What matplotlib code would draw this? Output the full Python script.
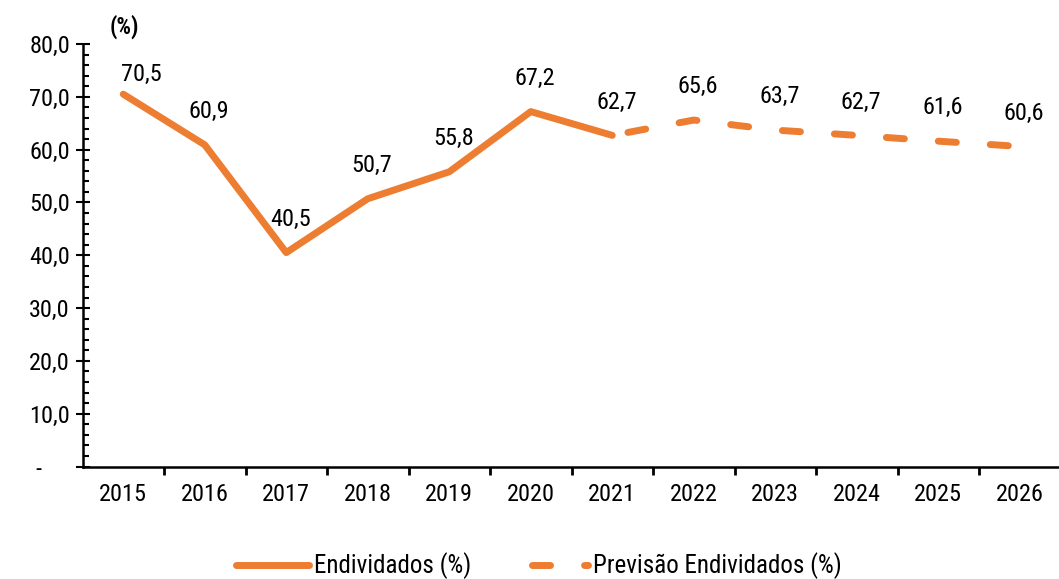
import matplotlib
matplotlib.use("Agg")
import matplotlib.pyplot as plt
from matplotlib.ticker import MultipleLocator, FuncFormatter

plt.rcParams['font.family'] = ['Roboto Condensed', 'Liberation Sans', 'DejaVu Sans']
plt.rcParams['lines.scale_dashes'] = False

years = ["2015", "2016", "2017", "2018", "2019", "2020", "2021",
         "2022", "2023", "2024", "2025", "2026"]
endividados = [70.5, 60.9, 40.5, 50.7, 55.8, 67.2, 62.7]
previsao = [62.7, 65.6, 63.7, 62.7, 61.6, 60.6]
y_ticks = [0, 10, 20, 30, 40, 50, 60, 70, 80]

ORANGE = "#ED7D31"
FS = 17.5

fig = plt.figure(figsize=(10.59, 5.79), dpi=100)
ax = fig.add_axes([82.5 / 1059, 1 - 466.5 / 579, (1060.5 - 82.5) / 1059, (466.5 - 44) / 579])

x_all = list(range(len(years)))
x_hist = x_all[:len(endividados)]
x_prev = x_all[len(endividados) - 1:]

ax.plot(x_hist, endividados, color=ORANGE, lw=5, solid_capstyle='round',
        solid_joinstyle='round', label="Endividados (%)", clip_on=False)
lp, = ax.plot(x_prev, previsao, color=ORANGE, lw=5, dash_capstyle='round',
              label="Previsão Endividados (%)", clip_on=False)
lp.set_linestyle((26, (13, 24.5)))

# data labels
vals = endividados + previsao[1:]
for i, v in enumerate(vals):
    dx, dy = (3, 24) if i > 0 else (13, 14)
    ax.annotate(f"{v:.1f}".replace(".", ","), (i, v), xytext=(dx, dy),
                textcoords="offset points", ha="center", va="center",
                fontsize=FS, color="black")

ax.set_xlim(-0.5, len(years) - 0.5)
ax.set_ylim(0, 80)
ax.set_xticks(x_all)
ax.set_xticklabels(years, fontsize=FS)
ax.set_xticks([i - 0.5 for i in range(1, len(years))], minor=True)
ax.tick_params(axis='x', which='major', length=0, pad=12)
ax.tick_params(axis='x', which='minor', length=6, width=2, direction='out', color='black')

ax.set_yticks(y_ticks)
ax.yaxis.set_major_formatter(FuncFormatter(lambda v, p: "-     " if v == 0 else f"{v:.1f}".replace(".", ",")))
ax.yaxis.set_minor_locator(MultipleLocator(2))
ax.tick_params(axis='y', which='major', length=10, width=1.5, direction='inout', labelsize=FS, pad=4)
ax.tick_params(axis='y', which='minor', length=4.5, width=1.5, direction='in')

for s in ['top', 'right']:
    ax.spines[s].set_visible(False)
for s in ['left', 'bottom']:
    ax.spines[s].set_linewidth(1.8)
    ax.spines[s].set_color('black')

fig.text(124 / 1059, 1 - 27 / 579, "(%)", fontsize=FS - 1, fontweight='bold', ha='center', va='center')

leg = fig.legend(handles=ax.get_lines(), loc='center', bbox_to_anchor=(539 / 1059, 1 - 566 / 579),
                 ncol=2, frameon=False, fontsize=18, handlelength=2.9, columnspacing=1.8,
                 handletextpad=0.2, borderpad=0, borderaxespad=0)

fig.savefig("out.png", dpi=100)
